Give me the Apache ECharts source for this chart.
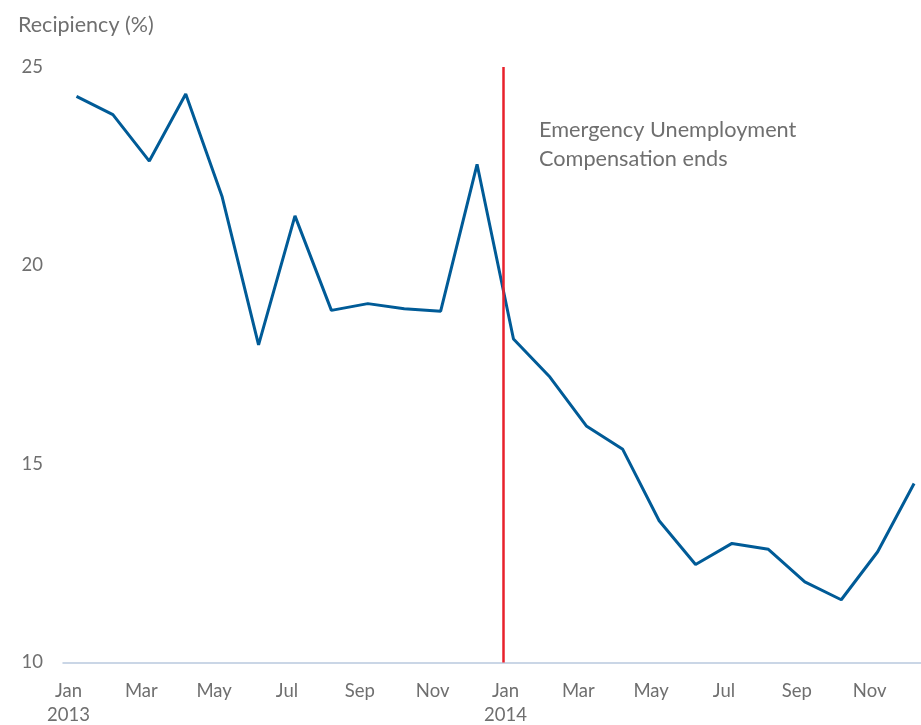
<!DOCTYPE html>
<html>
<head>
<meta charset="utf-8">
<script src="https://cdn.jsdelivr.net/npm/echarts@6/dist/echarts.min.js"></script>
<style>
  html, body { margin: 0; padding: 0; background: #fff; }
  #main { width: 921px; height: 725px; }
</style>
</head>
<body>
<div id="main"></div>
<script>
// month labels, Jan 2013 .. Dec 2014
var months = ["Jan","Feb","Mar","Apr","May","Jun","Jul","Aug","Sep","Oct","Nov","Dec"];
var years = ["2013","2014"];
// recipiency (%)
var recipiency = [24.26, 23.80, 22.63, 24.32, 21.73, 18.00, 21.25, 18.87, 19.04, 18.91, 18.85, 22.55,
                  18.15, 17.19, 15.96, 15.37, 13.57, 12.47, 13.00, 12.85, 12.03, 11.58, 12.79, 14.51];
var labelIdx = [0, 2, 4, 6, 8, 10, 12, 14, 16, 18, 20, 22];
var eventAt = 11.71; // end of EUC, just before Jan 2014 point

var gray = '#6f6f6f';
var fontFam = 'Lato, "Open Sans", sans-serif';

var myChart = echarts.init(document.getElementById('main'));

var option = {
    animation: false,
    title: {
        text: 'Recipiency (%)',
        left: 13,
        top: 9,
        textStyle: { color: gray, fontSize: 21.5, fontWeight: 'normal', fontFamily: fontFam }
    },
    grid: { left: 63, right: 0, top: 67, bottom: 62.5, containLabel: false, outerBoundsMode: 'none' },
    xAxis: {
        type: 'value',
        min: -0.37,
        max: 23.19,
        splitLine: { show: false },
        axisTick: { show: false },
        axisLine: { lineStyle: { color: '#b9c9de', width: 1.5 } },
        axisLabel: {
            customValues: labelIdx,
            color: gray,
            fontSize: 18.5,
            fontFamily: fontFam,
            lineHeight: 24,
            margin: 17,
            padding: [0, 16, 0, 0],
            formatter: function (v) {
                var i = Math.round(v);
                var m = months[i % 12];
                return i % 12 === 0 ? m + '\n' + years[i / 12] : m;
            }
        }
    },
    yAxis: {
        type: 'value',
        min: 10,
        max: 25,
        interval: 5,
        splitLine: { show: false },
        axisTick: { show: false },
        axisLine: { show: false },
        axisLabel: { color: gray, fontSize: 18.5, fontFamily: fontFam, margin: 20 }
    },
    series: [{
        type: 'line',
        data: recipiency.map(function (v, i) { return [i, v]; }),
        symbol: 'none',
        lineStyle: { color: '#005b97', width: 3 },
        markLine: {
            silent: true,
            symbol: 'none',
            label: { show: false },
            lineStyle: { color: '#e8212b', width: 2.5, type: 'solid' },
            data: [{ xAxis: eventAt }]
        }
    }],
    graphic: [{
        type: 'text',
        left: 539,
        top: 116,
        style: {
            text: 'Emergency Unemployment\nCompensation ends',
            fill: gray,
            font: '21.7px ' + fontFam,
            lineHeight: 29
        }
    }]
};

myChart.setOption(option);
</script>
</body>
</html>
